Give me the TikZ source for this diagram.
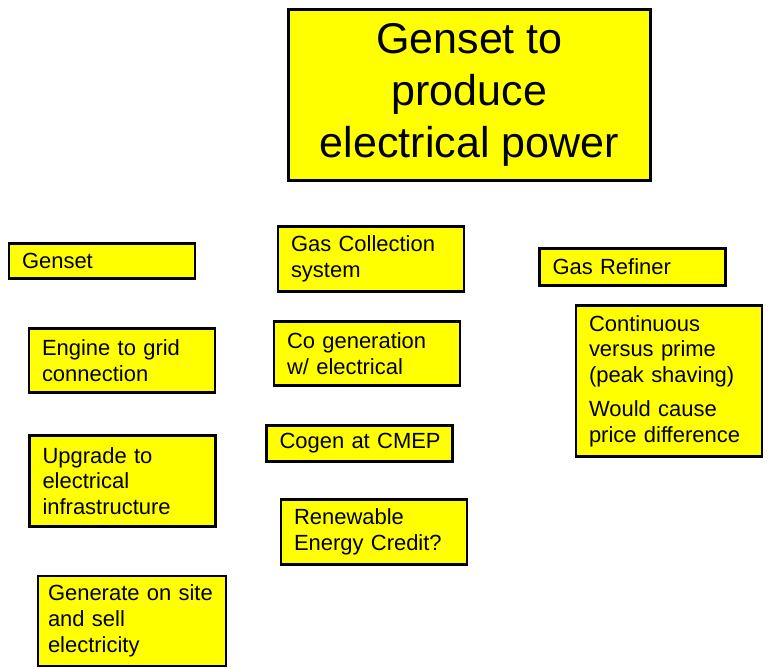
\documentclass[tikz,border=0pt]{standalone}
\usepackage{fontspec}
\setmainfont{Liberation Sans}
\usepackage{xcolor}
\usepackage{tikz}
\usetikzlibrary{positioning}
\definecolor{noteyellow}{HTML}{FFFF00}
\definecolor{noteline}{HTML}{000000}
\tikzset{
  notebox/.style={draw=noteline, fill=noteyellow, line width=1.6pt, inner xsep=0.26cm, inner ysep=0pt,
    minimum width=3.72cm, text width=3.2cm, align=left, font=\fontsize{12.5}{14.7}\selectfont},
  titlebox/.style={draw=noteline, fill=noteyellow, line width=1.6pt, minimum width=7.24cm,
    minimum height=3.42cm, align=center, font=\fontsize{24.5}{29.5}\selectfont}
}

\begin{document}
\begin{tikzpicture}[x=0.02cm, y=-0.02cm]
  \useasboundingbox (0,0) rectangle (769,668);
  % title
  \node[titlebox] (title) at (469.5,95) {Genset to\\produce\\electrical power};
  % left column
  \node[notebox, minimum height=0.70cm] (genset) at (102,261) {Genset};
  \node[notebox, minimum height=1.28cm] (engine) at (122,360.5) {Engine to grid\\connection};
  \node[notebox, minimum height=1.82cm] (upgrade) at (122.5,481) {Upgrade to\\electrical\\infrastructure};
  \node[notebox, inner xsep=0.2cm, text width=3.36cm, minimum height=1.80cm] (generate) at (132,621)
    {\hbox{Generate on site}\\and sell\\electricity};
  % middle column
  \node[notebox, minimum height=1.30cm] (gascoll) at (371,259) {Gas Collection\\system};
  \node[notebox, minimum height=1.28cm] (cogen) at (367,353.5) {Co generation\\w/ electrical};
  \node[notebox, minimum height=0.72cm] (cmep) at (359.5,443.5) {\hbox{Cogen at CMEP}};
  \node[notebox, minimum height=1.30cm] (credit) at (374,532) {Renewable\\Energy Credit?};
  % right column
  \node[notebox, minimum height=0.74cm] (refiner) at (632.5,267) {Gas Refiner};
  \node[notebox, minimum height=3.02cm] (prime) at (669,381)
    {Continuous\\versus prime\\(peak shaving)\\[4.5pt]Would cause\\price difference};
\end{tikzpicture}
\end{document}
